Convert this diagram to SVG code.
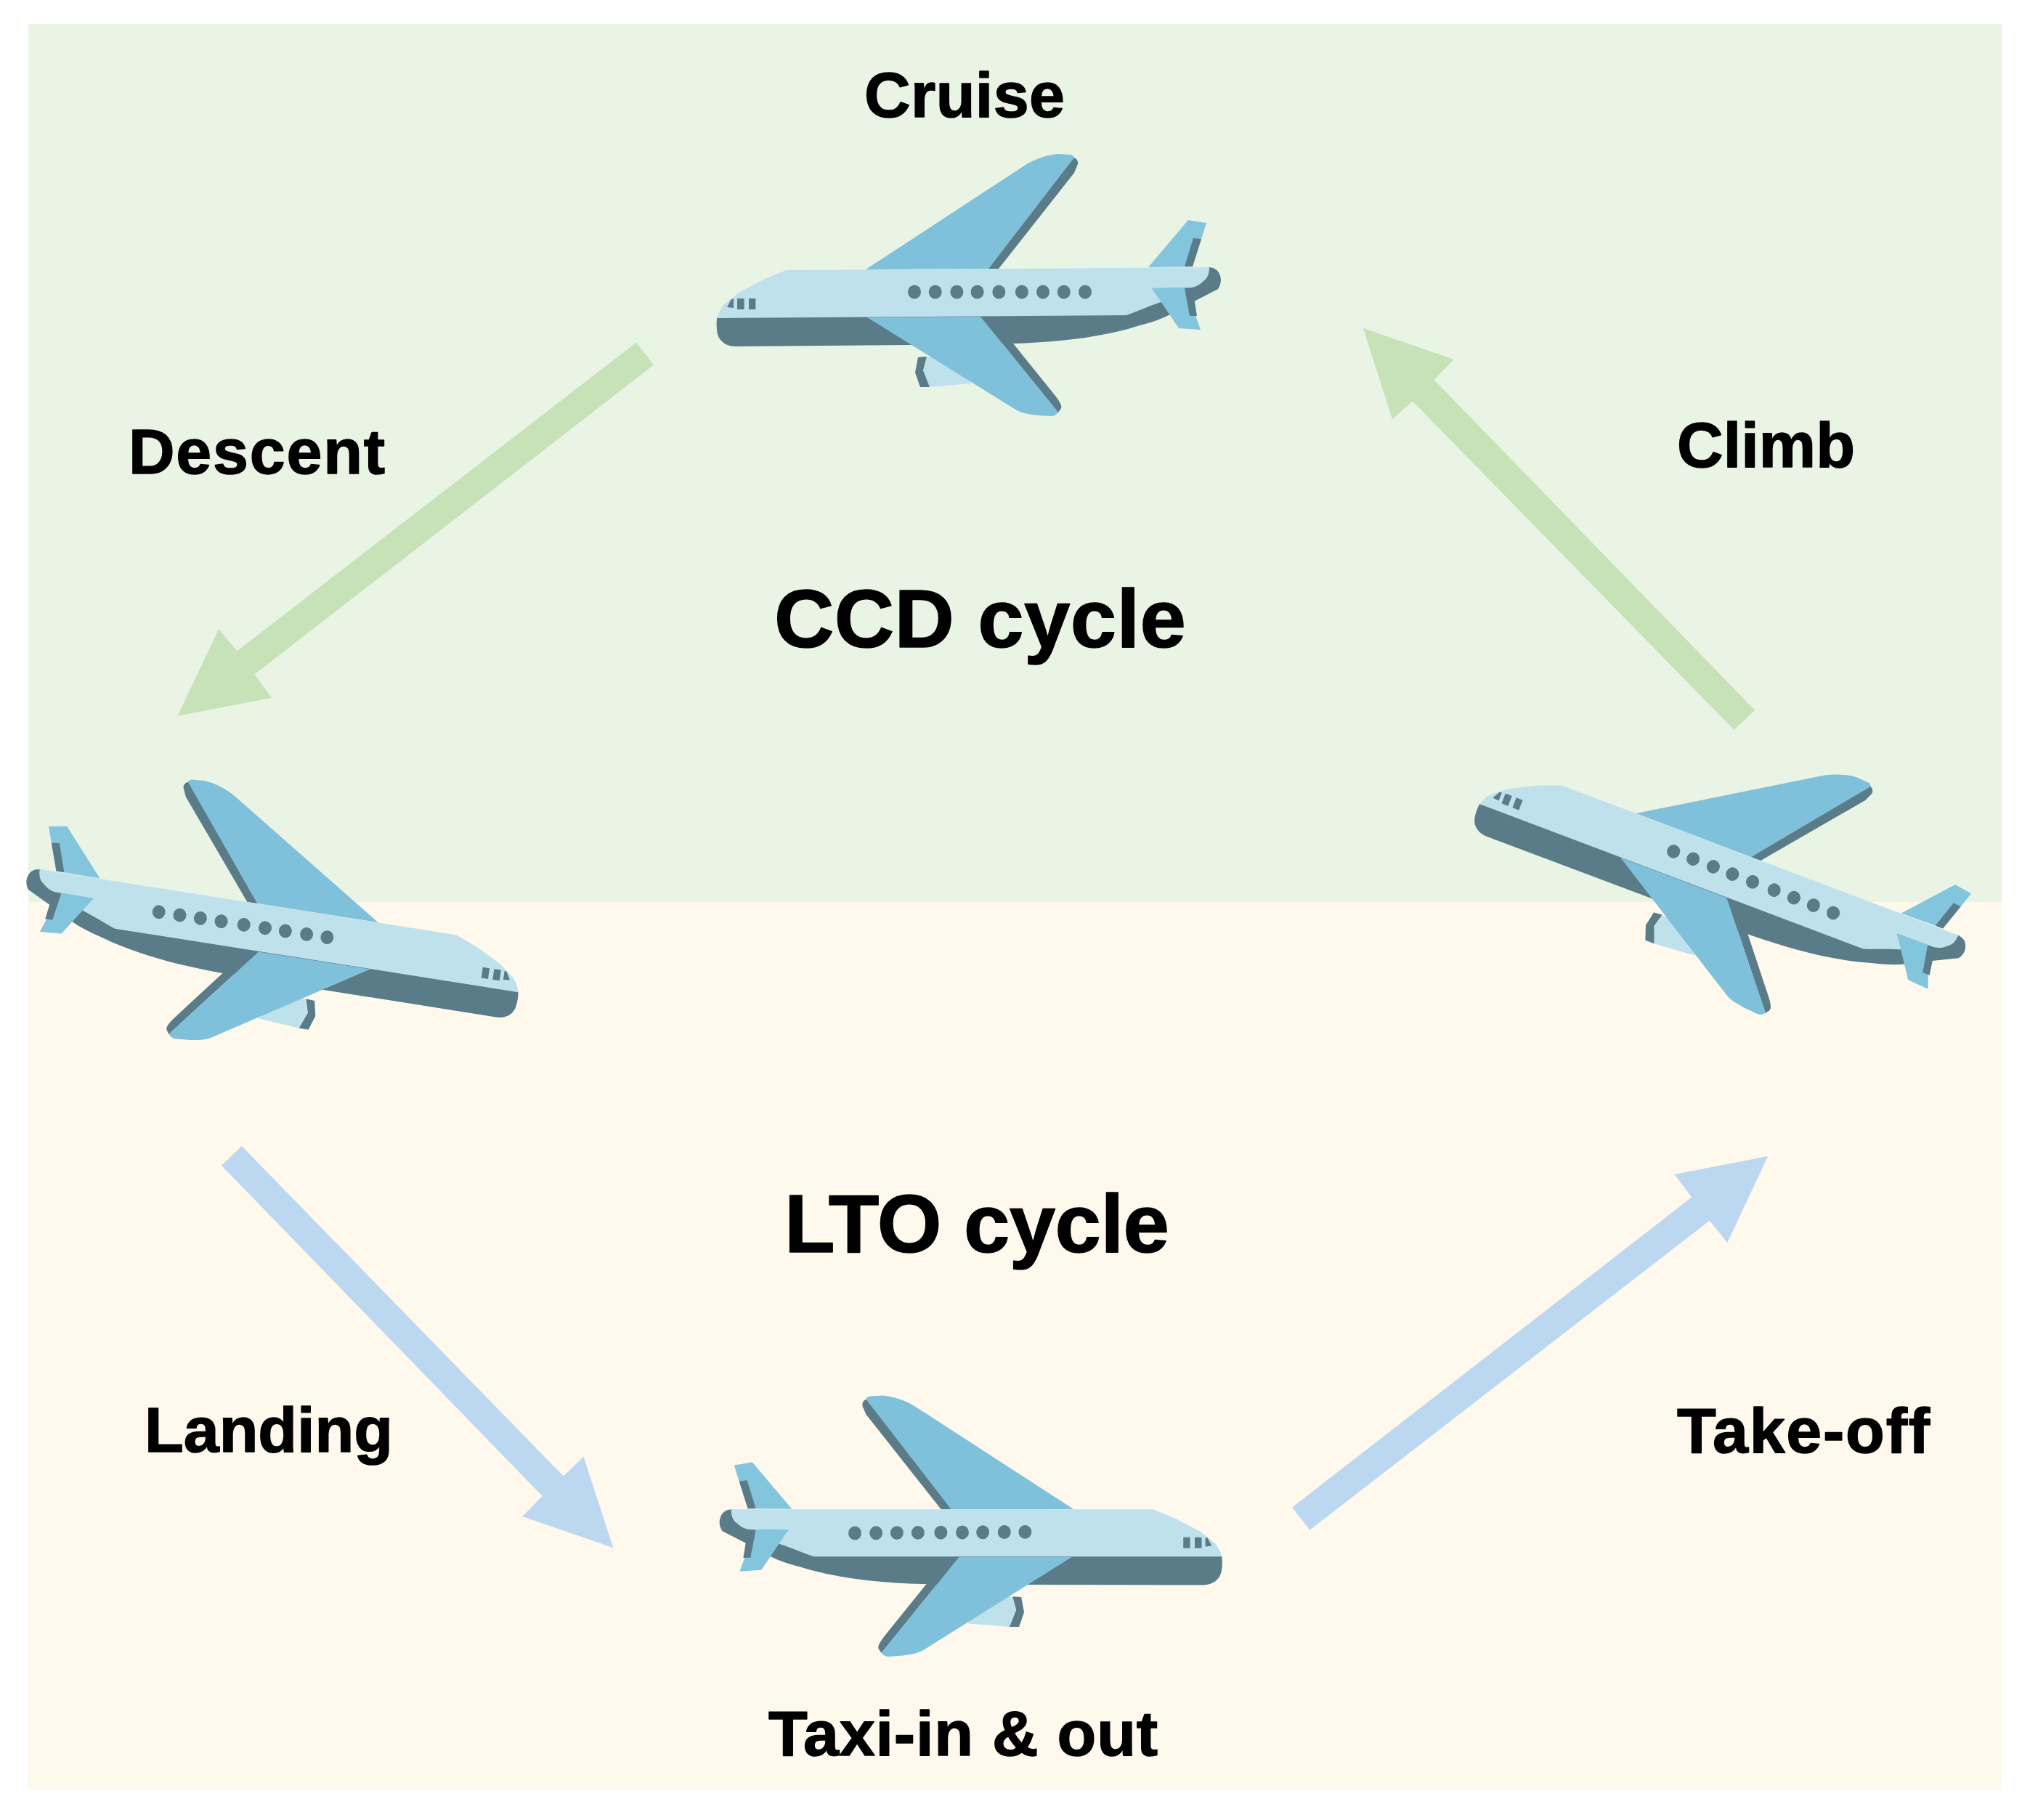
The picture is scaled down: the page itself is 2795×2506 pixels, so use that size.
<svg xmlns="http://www.w3.org/2000/svg" xmlns:xlink="http://www.w3.org/1999/xlink" width="2795" height="2506" viewBox="0 0 2795 2506">
<style>
.d{fill:#5a7b88}.l{fill:#bfe1ec}.w{fill:#7fc0da}.f{fill:#84c5de}
.ga{fill:#c6e2b6}.ba{fill:#bcd7f0}
text{font-family:"Liberation Sans",Arial,sans-serif;font-weight:700;fill:#000;stroke:#000;stroke-width:1.5;stroke-linejoin:round}
.s{font-size:88px}.b{font-size:114px}
</style>
<defs>
<g id="plane">
<path class="l" d="M316,312 L311,333 L320,353 L378,348 L340,310 Z"/>
<path class="d" d="M304,312 L316,311 L311,330 L320,353 L307,353 L300,333 Z"/>
<path class="w" d="M232,191 L452,47 C465,39 482,33 497,32 L514,33 Q520,35 519,38 L401,190 Z"/>
<path class="d" d="M519,37 Q525,40 524,46 L519,58 L415,190 L401,190 Z"/>
<path class="f" d="M621,188 L676,123 L701,127 L682,187 Z"/>
<path class="d" d="M683,148 L694,149 L682,187 L671,187 Z"/>
<path class="d" d="M27,258 C26,272 27,282 32,288 C37,294 44,297 53,297 L292,295 L440,293 C490,291 540,287 593,273 C615,266 632,263 651,253 L684,235 L717,218 C721,212 722,205 720,200 C718,193 714,189 705,188 Z"/>
<path class="l" d="M122,192 L705,188 C705,196 703,203 697,207 C692,212 687,215 680,216 L626,217 L641,235 C626,240 610,247 591,254 L27,258 Q30,248 36,240 L57,223 L91,205 Z"/>
<path class="d" d="M390,256 L435,293 L493,365 Q503,378 501,382 L497,388 Z"/>
<path class="w" d="M234,257 L390,256 L497,388 Q492,394 485,393 C470,392 452,391 440,385 Z"/>
<path class="f" d="M626,217 L672,216 L693,274 L663,272 Z"/>
<path class="d" d="M671,217 L682,217 L688,255 L678,255 Z"/>
<g class="d">
<ellipse cx="299" cy="222" rx="9" ry="9.5"/><ellipse cx="327.7" cy="222" rx="9" ry="9.5"/><ellipse cx="357.4" cy="222" rx="9" ry="9.5"/><ellipse cx="385.6" cy="222" rx="9" ry="9.5"/><ellipse cx="415.3" cy="222" rx="9" ry="9.5"/><ellipse cx="446.9" cy="222" rx="9" ry="9.5"/><ellipse cx="476" cy="222" rx="9" ry="9.5"/><ellipse cx="504.8" cy="222" rx="9" ry="9.5"/><ellipse cx="534" cy="222" rx="9" ry="9.5"/>
<rect x="55" y="231" width="9.6" height="15"/><rect x="71" y="231" width="9.4" height="15"/>
<path d="M41,243 L47,232 L50,231.5 L50,244 Z"/>
</g>
</g>
</defs>
<rect width="2795" height="2506" fill="#fff"/>
<g id="background">
<rect x="39" y="33" width="2717" height="1209" fill="#e9f4e4"/>
<rect x="39" y="1242" width="2717" height="1223" fill="#fff9ed"/>
</g>
<g id="connectors">
<polygon class="ga" points="876.3,471.4 899.9,502.5 350.4,928.6 374,960.7 244.6,985.7 301.3,866.1 326.3,896.4"/>
<polygon class="ga" points="1876.8,451.8 2001.9,495 1974.4,523 2416.3,978 2387.6,1005.1 1944.9,552.4 1917,577.3"/>
<polygon class="ba" points="332.8,1578 304.9,1604.8 746.8,2060.1 719.3,2088.1 844.4,2131.3 803.5,2005.8 775.9,2032.6"/>
<polygon class="ba" points="1779.2,2075.4 1803.3,2106.8 2353.8,1680.7 2378.3,1711.1 2434.1,1592.1 2305.5,1617.1 2329.2,1648.6"/>
</g>
<g id="node-cruise"><use xlink:href="#plane" href="#plane" transform="translate(960,180)"/><text class="s" x="1190" y="161" textLength="276">Cruise</text></g>
<g id="node-descent"><use xlink:href="#plane" href="#plane" transform="matrix(-0.98617 -0.14838 -0.13691 0.98 775.68 1117.4)"/></g>
<g id="node-climb"><use xlink:href="#plane" href="#plane" transform="matrix(0.93573 0.3605 -0.35374 0.91188 2103 862.1)"/></g>
<g id="node-taxi"><use xlink:href="#plane" href="#plane" transform="matrix(-0.997 0.00686 -0.00254 0.99591 1710 1886.23)"/><text class="s" x="1058" y="2417" textLength="536">Taxi-in &amp; out</text></g>
<g id="labels">
<text class="s" x="177" y="652" textLength="353">Descent</text>
<text class="s" x="2309" y="643" textLength="245">Climb</text>
<text class="s" x="199" y="1999" textLength="342">Landing</text>
<text class="s" x="2309" y="2000" textLength="348">Take-off</text>
<text class="b" x="1066" y="891" textLength="567">CCD cycle</text>
<text class="b" x="1080" y="1724" textLength="530">LTO cycle</text>
</g>
</svg>
